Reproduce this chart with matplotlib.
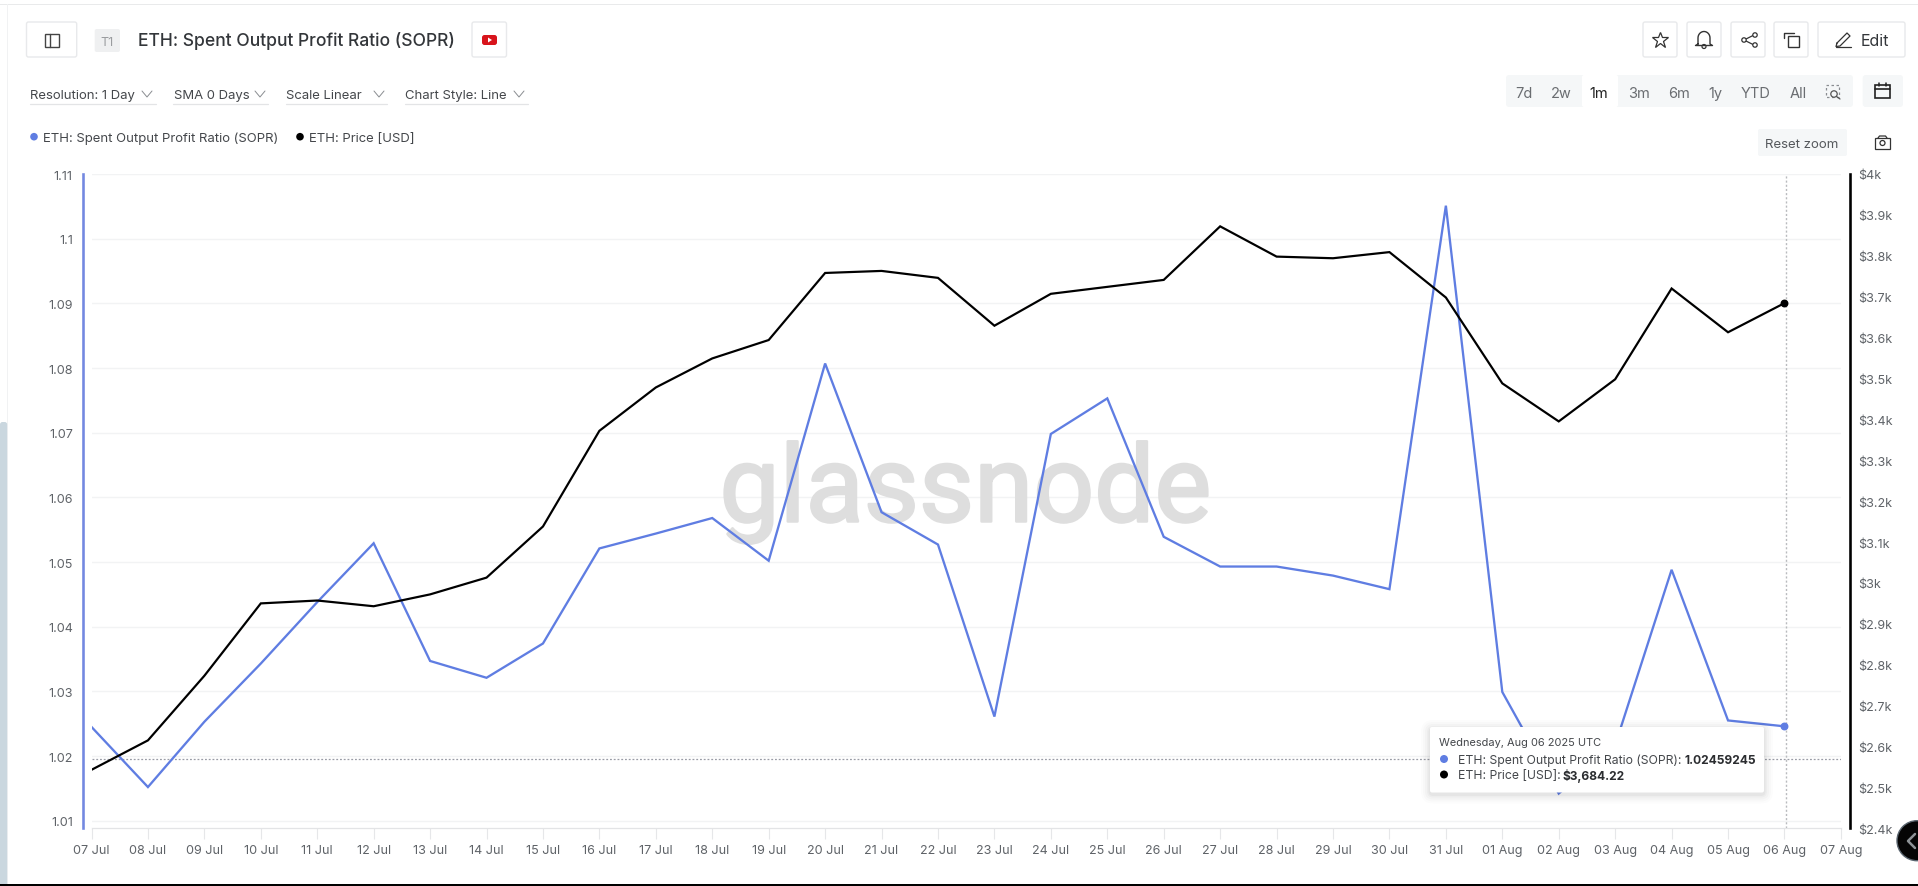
import numpy as np
import matplotlib
matplotlib.use("Agg")
import matplotlib.pyplot as plt
import matplotlib.patheffects as pe
from matplotlib.patches import FancyBboxPatch, Rectangle, Circle, Polygon
from matplotlib.ticker import FixedLocator, FixedFormatter

W, H = 1918, 887
plt.rcParams['font.family'] = ['Inter', 'DejaVu Sans']

# ---------- data ----------
date_labels = ["07 Jul", "08 Jul", "09 Jul", "10 Jul", "11 Jul", "12 Jul", "13 Jul", "14 Jul",
               "15 Jul", "16 Jul", "17 Jul", "18 Jul", "19 Jul", "20 Jul", "21 Jul", "22 Jul",
               "23 Jul", "24 Jul", "25 Jul", "26 Jul", "27 Jul", "28 Jul", "29 Jul", "30 Jul",
               "31 Jul", "01 Aug", "02 Aug", "03 Aug", "04 Aug", "05 Aug", "06 Aug", "07 Aug"]
sopr = [1.0245, 1.0152, 1.0253, 1.0343, 1.0438, 1.0529, 1.0347, 1.0321, 1.0374, 1.0521,
        1.0544, 1.0568, 1.0502, 1.0807, 1.0577, 1.0527, 1.0261, 1.0698, 1.0753, 1.0539,
        1.0493, 1.0493, 1.0479, 1.0458, 1.1051, 1.0299, 1.0142, 1.0217, 1.0488, 1.0255,
        1.02459245]
price = [2543, 2615, 2773, 2950, 2957, 2943, 2972, 3013, 3138, 3372,
         3478, 3549, 3594, 3758, 3763, 3746, 3629, 3707, 3724, 3741,
         3872, 3798, 3794, 3809, 3698, 3488, 3395, 3498, 3720, 3613,
         3684.22]
sopr_ticks = [1.01, 1.02, 1.03, 1.04, 1.05, 1.06, 1.07, 1.08, 1.09, 1.10, 1.11]
sopr_tick_labels = ["1.01", "1.02", "1.03", "1.04", "1.05", "1.06", "1.07", "1.08", "1.09", "1.1", "1.11"]
price_ticks = [2400, 2500, 2600, 2700, 2800, 2900, 3000, 3100, 3200, 3300, 3400, 3500,
               3600, 3700, 3800, 3900, 4000]
price_tick_labels = ["$2.4k", "$2.5k", "$2.6k", "$2.7k", "$2.8k", "$2.9k", "$3k", "$3.1k", "$3.2k",
                     "$3.3k", "$3.4k", "$3.5k", "$3.6k", "$3.7k", "$3.8k", "$3.9k", "$4k"]
series_sopr = "ETH: Spent Output Profit Ratio (SOPR)"
series_price = "ETH: Price [USD]"
range_labels = ["7d", "2w", "1m", "3m", "6m", "1y", "YTD", "All"]

BLUE = "#5f7de2"
TXT = "#5f6368"
px = 0.72  # px -> pt at dpi 100

fig = plt.figure(figsize=(W / 100, H / 100), dpi=100, facecolor="white")

L, R, T, B = 91.5, 1840.9, 175.0, 829.3
ax = fig.add_axes([L / W, 1 - B / H, (R - L) / W, (B - T) / H])
ax2 = ax.twinx()
days = np.arange(len(sopr))

ax.set_xlim(0, 31)
ax.set_ylim(1.01 - (B - 821.7) / 6460, 1.11)
ax2.set_ylim(2400, 4000)

# watermark
wm = ax.text((725 + 1206) / 2 / W, 1 - 493 / H, "glassnode", transform=fig.transFigure,
             ha="center", va="center", fontsize=77, color="#dedede",
             family=["Roboto", "DejaVu Sans"], zorder=1,
             path_effects=[pe.withStroke(linewidth=1.8, foreground="#dedede")])

# grid
ax.yaxis.set_major_locator(FixedLocator(sopr_ticks))
ax.yaxis.set_major_formatter(FixedFormatter(sopr_tick_labels))
ax.grid(axis="y", color="#f2f3f4", lw=1.0)
ax.set_axisbelow(True)

ax.plot(days, sopr, color=BLUE, lw=2.3 * px, zorder=3, solid_joinstyle="miter")
ax2.plot(days, price, color="#000000", lw=2.2 * px, zorder=3, solid_joinstyle="miter")
ax.plot(days[-1], sopr[-1], "o", color=BLUE, ms=6.5 * px, zorder=4)
ax2.plot(days[-1], price[-1], "o", color="#000000", ms=6.5 * px, zorder=4)

# crosshair
ax.axvline(30.03, color="#b9bbbe", lw=1.0, ls=(0, (1.5, 1.5)), zorder=2)
ax.axhline(1.05 + (563.3 - 760.3) / 6460, color="#9a9ca6", lw=0.9, ls=(0, (1.5, 1.5)), zorder=2)

# axes
ax.set_xticks(np.arange(len(date_labels)))
ax.set_xticklabels(date_labels)
ax.tick_params(axis="x", length=11 * px, width=0.8, color="#e6e7e9", labelsize=12.6 * px,
               labelcolor=TXT, pad=5 * px)
ax.tick_params(axis="y", length=0, labelsize=12.6 * px, labelcolor=TXT, pad=10.5 * px)
ax2.yaxis.set_major_locator(FixedLocator(price_ticks))
ax2.yaxis.set_major_formatter(FixedFormatter(price_tick_labels))
ax2.tick_params(axis="y", length=0, labelsize=12.6 * px, labelcolor=TXT, pad=8 * px)

for a in (ax, ax2):
    a.patch.set_visible(False)
    a.spines["top"].set_visible(False)
    a.spines["bottom"].set_color("#e3e4e6")
    a.spines["left"].set_visible(False)
    a.spines["right"].set_visible(False)
ax.spines["left"].set_visible(True)
ax.spines["left"].set_position(("outward", (L - 83.3) * px))
ax.spines["left"].set_color("#7388e0")
ax.spines["left"].set_linewidth(2.6 * px)
ax2.spines["right"].set_visible(True)
ax2.spines["right"].set_position(("outward", (1850 - R) * px))
ax2.spines["right"].set_color("#000000")
ax2.spines["right"].set_linewidth(2.6 * px)

# ---------- page furniture on a pixel-space overlay ----------
ui = fig.add_axes([0, 0, 1, 1], zorder=10)
ui.set_xlim(0, W)
ui.set_ylim(H, 0)
ui.axis("off")
ui.patch.set_visible(False)


def box(x0, y0, x1, y1, fc="white", ec="#e8e9eb", lw=1.0, r=2, z=2, **kw):
    p = FancyBboxPatch((x0 + r, y0 + r), x1 - x0 - 2 * r, y1 - y0 - 2 * r,
                       boxstyle=f"round,pad={r},rounding_size={r}", fc=fc, ec=ec, lw=lw, zorder=z, **kw)
    ui.add_patch(p)
    return p


def line(xs, ys, c="#333333", lw=1.2, z=4, **kw):
    ui.plot(xs, ys, color=c, lw=lw, zorder=z, solid_capstyle="round", **kw)


def txt(x, y, s, size, c=TXT, ha="left", weight="normal", z=5):
    return ui.text(x, y + 1.5, s, fontsize=size * px, color=c, ha=ha, va="center", fontweight=weight, zorder=z)


def chevron(x, y, c="#8a8d91"):
    line([x - 5, x, x + 5], [y - 3, y + 3, y - 3], c=c, lw=0.7)


# page edges
ui.add_patch(Rectangle((0, 4.5), W, 1.2, fc="#e9eaeb", ec="none", zorder=1))
ui.add_patch(Rectangle((6.6, 5), 1, 880, fc="#f1f2f3", ec="none", zorder=1))
box(0, 423, 7.2, 892, fc="#cad7df", ec="none", r=2.5, z=2)
ui.add_patch(Rectangle((0, 885), W, 2, fc="#000000", ec="none", zorder=8))

# header buttons
box(26.5, 23, 76.7, 58)
ui.add_patch(Rectangle((44.5, 35), 14.5, 12.5, fc="none", ec="#444444", lw=1.0, zorder=4))
line([49.5, 49.5], [35, 47.5], c="#444444", lw=1.0)
box(94.7, 30, 120, 53, fc="#eff0f1", ec="none")
txt(107.3, 41, "T1", 12.5, c="#9a9c9f", ha="center")
txt(138, 40, series_sopr, 17.5, c="#33363a", weight="medium")
box(472, 23, 506.5, 58)
box(482, 36, 497, 46, fc="#d8141c", ec="none", r=2.5, z=4)
ui.add_patch(Polygon([[488, 38.5], [488, 43.5], [492, 41]], fc="white", ec="none", zorder=5))

# icon buttons
for x0, x1 in [(1643, 1677), (1687, 1721), (1731, 1765), (1774, 1808), (1818, 1905)]:
    box(x0, 23, x1, 58)
ui.plot([1660], [41], marker="*", ms=13.5 * px * 1.2, mfc="none", mec="#333333", mew=0.9, zorder=4)
# bell
bell_t = np.linspace(np.pi, 0, 20)
line(np.r_[1698, 1698, 1704 + 6 * np.cos(bell_t), 1710, 1712.5, 1695.5, 1698],
     np.r_[45, 39, 39 + 6.5 * np.sin(-bell_t) * 1.0, 45, 46.5, 46.5, 45], lw=1.0)
ui.add_patch(Circle((1704, 47.5), 2, fc="none", ec="#333333", lw=0.9, zorder=4))
# share
line([1754, 1744, 1754], [36, 41, 46], lw=0.9)
for cx, cy in [(1755, 36), (1744, 41), (1755, 46)]:
    ui.add_patch(Circle((cx, cy), 2.2, fc="white", ec="#333333", lw=0.9, zorder=5))
# copy
ui.add_patch(Rectangle((1788, 37), 10.5, 10.5, fc="none", ec="#333333", lw=1.0, zorder=4))
line([1784, 1784, 1794], [39, 33.5, 33.5], lw=1.0)
# pencil
line([1837, 1847, 1850, 1840, 1836, 1837], [44, 34, 37, 47, 47.5, 44], lw=0.9)
line([1835.5, 1851], [47.5, 47.5], lw=0.9)
txt(1861, 40, "Edit", 16, c="#33363a")

# selectors
selectors = [("Resolution: 1 Day", 30, 147, 156), ("SMA 0 Days", 173.5, 260, 268),
             ("Scale Linear", 286.5, 379, 387), ("Chart Style: Line", 405, 519, 528)]
for s, x, cx, xe in selectors:
    txt(x, 94.5, s, 13.1, c="#44474b")
    chevron(cx, 95)
    line([x - 0.5, xe], [105.3, 105.3], c="#e3e4e6", lw=0.9)

# range bar
box(1506, 76, 1853, 108, fc="#f5f7f8", ec="none", r=3)
box(1582, 76, 1618, 108, fc="white", ec="none", r=2, z=3)
range_centres = [1524, 1561.7, 1599, 1639, 1679, 1715.7, 1756, 1798]
for s, x in zip(range_labels, range_centres):
    txt(x, 92.5, s, 14.6, c="#222222" if s == "1m" else "#6a6d71", ha="center")
ui.add_patch(Rectangle((1826, 86), 13, 12, fc="none", ec="#8a8d91", lw=0.9, ls=(0, (2, 2)), zorder=4))
ui.add_patch(Circle((1834, 95), 3.2, fc="#f5f7f8", ec="#555555", lw=0.9, zorder=5))
line([1836.5, 1840], [97.5, 100], c="#555555", lw=0.9, z=5)
box(1862.7, 76, 1903, 108, fc="#f5f7f8", ec="none", r=3)
ui.add_patch(Rectangle((1875, 86), 14.5, 13, fc="none", ec="#222222", lw=1.2, zorder=4))
line([1875, 1889.5], [89.5, 89.5], c="#222222", lw=1.2)
line([1878.5, 1878.5], [84, 87], c="#222222", lw=1.1)
line([1886, 1886], [84, 87], c="#222222", lw=1.1)

# reset zoom + camera
box(1758, 130, 1847, 157, fc="#f5f7f8", ec="none", r=2)
txt(1802, 143, "Reset zoom", 13.2, c="#55585c", ha="center")
ui.add_patch(Rectangle((1875, 139), 15, 10.5, fc="none", ec="#333333", lw=0.9, zorder=4))
line([1878, 1879.5, 1885.5, 1887], [139, 137, 137, 139], lw=0.9)
ui.add_patch(Circle((1882.5, 144), 2.5, fc="none", ec="#333333", lw=0.9, zorder=4))

# legend
ui.add_patch(Circle((34, 137.7), 3.8, fc=BLUE, ec="none", zorder=4))
txt(43, 137, series_sopr, 13.1, c="#44474b")
ui.add_patch(Circle((300, 137.7), 3.8, fc="#000000", ec="none", zorder=4))
txt(309, 137, series_price, 13.1, c="#44474b")

# tooltip
for g, a in [(9, 0.012), (7, 0.016), (5, 0.02), (3, 0.025), (1.5, 0.03)]:
    box(1430 - g, 728 - g + 2, 1764 + g, 793.5 + g + 2, fc="#000000", ec="none", r=3 + g, z=6, alpha=a)
box(1430, 728, 1764, 793.5, fc="white", ec="none", r=2, z=7)
txt(1439, 742, "Wednesday, Aug 06 2025 UTC", 11, c="#44474b", z=8)
ui.add_patch(Circle((1444, 760), 4, fc=BLUE, ec="none", zorder=8))
txt(1458, 759.5, series_sopr + ":", 12.2, c="#44474b", z=8)
txt(1684.7, 759.5, "1.02459245", 12, c="#2b2d30", weight="bold", z=8)
ui.add_patch(Circle((1444, 775.5), 4, fc="#000000", ec="none", zorder=8))
txt(1458, 775, series_price + ":", 12.2, c="#44474b", z=8)
txt(1562.6, 775, "$3,684.22", 12, c="#2b2d30", weight="bold", z=8)

# corner badge
ui.add_patch(Circle((1917, 841.7), 20, fc="#050505", ec="#5b6670", lw=1.0, zorder=6))
line([1915, 1908, 1915], [835, 842, 849], c="#8d9296", lw=1.8, z=7)

fig.savefig("out.png", dpi=100, facecolor="white")
